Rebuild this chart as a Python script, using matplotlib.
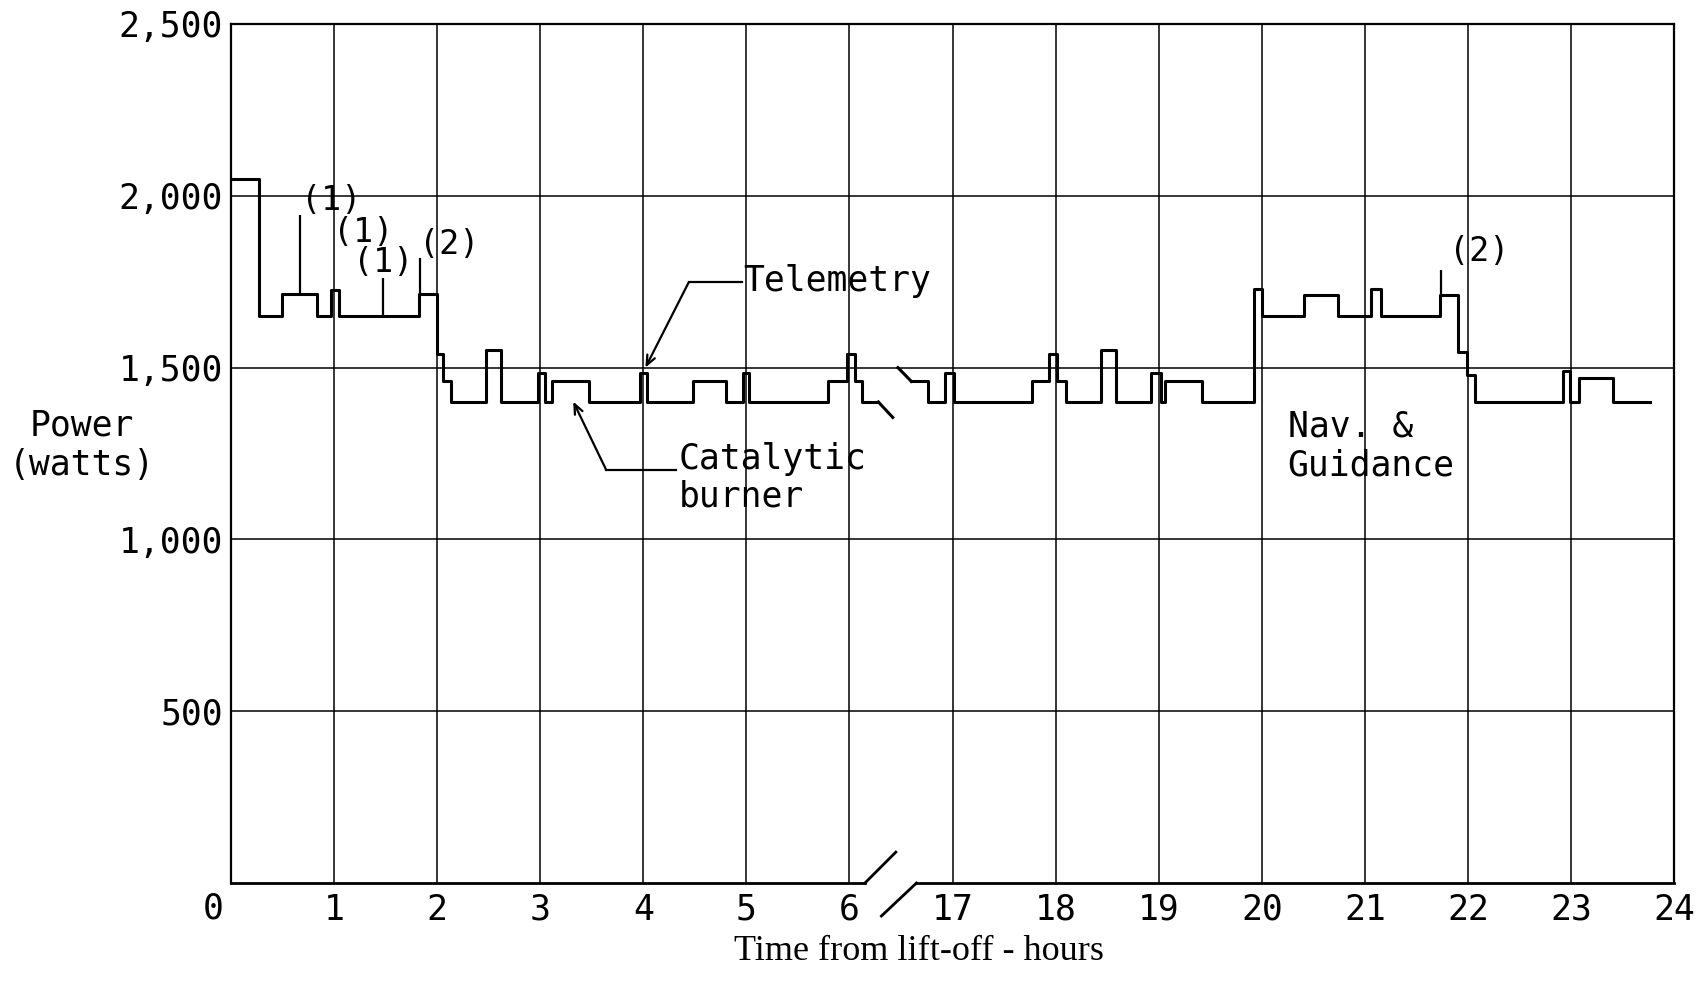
import matplotlib.pyplot as plt
import numpy as np

plt.rcParams['font.family'] = ['DejaVu Sans Mono']

# time axis is broken: hours 0-6, then 17-24 (7-16 squeezed into one slot)
tick_hours = [1, 2, 3, 4, 5, 6, 17, 18, 19, 20, 21, 22, 23, 24]

# power trace, step changes: hour of change, watts after the change
hrs_a = [0, 0.27, 0.49, 0.83, 0.97, 1.05, 1.82, 2.00, 2.06, 2.13, 2.47, 2.62,
         2.98, 3.05, 3.11, 3.47, 3.97, 4.04, 4.48, 4.80, 4.97, 5.03, 5.79,
         5.98, 6.05, 6.12, 6.28]
watts_a = [2050, 1650, 1715, 1650, 1725, 1650, 1715, 1540, 1460, 1400, 1550,
           1400, 1485, 1400, 1460, 1400, 1485, 1400, 1460, 1400, 1485, 1400,
           1460, 1540, 1460, 1400, 1400]

hrs_b = [16.60, 16.76, 16.93, 17.01, 17.77, 17.94, 18.01, 18.10, 18.44, 18.59,
         18.93, 19.02, 19.06, 19.42, 19.92, 20.00, 20.41, 20.74, 21.06, 21.16,
         21.73, 21.90, 21.99, 22.07, 22.92, 22.99, 23.08, 23.41, 23.77]
watts_b = [1460, 1400, 1485, 1400, 1460, 1540, 1460, 1400, 1550, 1400, 1485,
           1400, 1460, 1400, 1730, 1650, 1710, 1650, 1730, 1650, 1710, 1545,
           1478, 1400, 1490, 1400, 1470, 1400, 1400]

# little slanted cuts where the trace is broken
cut_a_hrs = [6.28, 6.42]
cut_a_watts = [1400, 1355]
cut_b_hrs = [16.47, 16.60]
cut_b_watts = [1500, 1460]

# event markers (1) and (2)
ev_hrs = [0.67, 1.47, 1.83, 21.74]
ev_low = [1715, 1650, 1715, 1710]
ev_high = [1945, 1760, 1820, 1785]
ev_labels = ['(1)', '(1)', '(1)', '(2)', '(2)']
ev_lab_hrs = [0.97, 1.28, 1.48, 2.12, 22.11]
ev_lab_watts = [1985, 1892, 1807, 1857, 1837]

yticks = [500, 1000, 1500, 2000, 2500]
ytick_labels = ['500', '1,000', '1,500', '2,000', '2,500']


def to_pos(h):
    h = np.asarray(h, dtype=float)
    return np.where(h > 12, h - 10, h)


fig = plt.figure(figsize=(16.99, 9.83), dpi=100)
ax = fig.add_axes([0.136, 0.1017, 0.8493, 0.8739])
ax.set_xlim(0, 14)
ax.set_ylim(0, 2500)

ax.step(to_pos(hrs_a), watts_a, where='post', color='k', lw=2.2)
ax.step(to_pos(hrs_b), watts_b, where='post', color='k', lw=2.2)
ax.plot(to_pos(cut_a_hrs), cut_a_watts, color='k', lw=2.2)
ax.plot(to_pos(cut_b_hrs), cut_b_watts, color='k', lw=2.2)

ax.vlines(to_pos(ev_hrs), ev_low, ev_high, color='k', lw=1.6)
for lab, h, w in zip(ev_labels, ev_lab_hrs, ev_lab_watts):
    ax.text(float(to_pos(h)), w, lab, fontsize=24, ha='center', va='center')

# grid and ticks
ax.set_xticks(to_pos(tick_hours), [str(h) for h in tick_hours])
ax.set_yticks(yticks, ytick_labels)
ax.tick_params(length=0, labelsize=25)
ax.tick_params(axis='x', pad=7)
ax.tick_params(axis='y', pad=6)
ax.grid(True, color='k', lw=1.1)
ax.text(-0.17, -75, '0', fontsize=25, ha='center', va='center')

for s in ['left', 'right', 'top']:
    ax.spines[s].set_linewidth(1.6)
ax.spines['bottom'].set_visible(False)

# broken bottom axis
ax.plot([0, 6.15], [0, 0], color='k', lw=2.0, clip_on=False)
ax.plot([6.65, 14], [0, 0], color='k', lw=2.0, clip_on=False)
ax.plot([6.15, 6.45], [0, 90], color='k', lw=2.0, clip_on=False)
ax.plot([6.31, 6.65], [-96, 0], color='k', lw=2.0, clip_on=False)

# annotations
ax.plot([4.44, 4.96], [1748, 1748], color='k', lw=1.6)
ax.annotate('', xy=(4.02, 1500), xytext=(4.44, 1748),
            arrowprops=dict(arrowstyle='->,head_length=0.7,head_width=0.3',
                            color='k', lw=1.6, shrinkA=0, shrinkB=0))
ax.text(4.97, 1752, 'Telemetry', fontsize=25, ha='left', va='center')

ax.plot([3.64, 4.32], [1202, 1202], color='k', lw=1.6)
ax.annotate('', xy=(3.32, 1401), xytext=(3.64, 1202),
            arrowprops=dict(arrowstyle='->,head_length=0.7,head_width=0.3',
                            color='k', lw=1.6, shrinkA=0, shrinkB=0))
ax.text(4.34, 1180, 'Catalytic\nburner', fontsize=25, ha='left', va='center',
        linespacing=1.15)

ax.text(float(to_pos(20.25)), 1272, 'Nav. &\nGuidance', fontsize=25,
        ha='left', va='center', linespacing=1.2)

fig.text(82 / 1699, 1 - 445 / 983, 'Power\n(watts)', fontsize=25,
         ha='center', va='center', linespacing=1.2)
fig.text(919 / 1699, 1 - 951 / 983, 'Time from lift-off - hours',
         fontsize=26, family='Liberation Serif', ha='center', va='center')

fig.savefig('out.png', dpi=100)
